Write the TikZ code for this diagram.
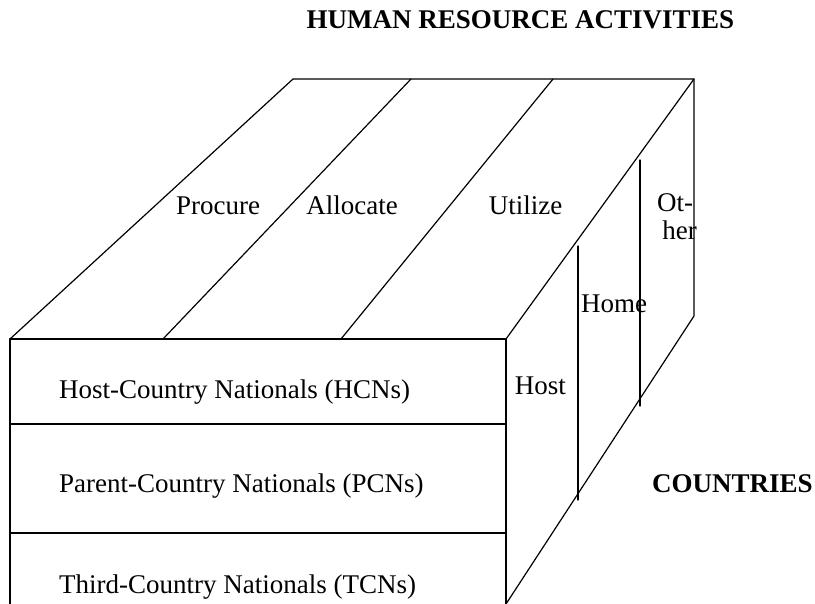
\documentclass[tikz,border=0pt]{standalone}
\usepackage{fontspec}
\setmainfont{Liberation Serif}
\begin{document}
\begin{tikzpicture}[x=1pt,y=-1pt,
  edge/.style={line width=1.2pt,line cap=round,line join=round},
  lbl/.style={inner sep=0pt,font=\fontsize{27}{30}\selectfont},
  ttl/.style={inner sep=0pt,font=\fontsize{27}{30}\selectfont\bfseries}]
\useasboundingbox (0,0) rectangle (815,604);
% corners
\coordinate (FTL) at (10,339);
\coordinate (FTR) at (506,339);
\coordinate (FBL) at (10,604);
\coordinate (FBR) at (506,604);
\coordinate (BTL) at (293,79);
\coordinate (BTR) at (694,79);
\coordinate (BMR) at (694,316);
\coordinate (D1a) at (10,424);
\coordinate (D1b) at (506,424);
\coordinate (D2a) at (10,533);
\coordinate (D2b) at (506,533);
\coordinate (T1a) at (163,339);
\coordinate (T1b) at (411,79);
\coordinate (T2a) at (341,339);
\coordinate (T2b) at (553,79);
\coordinate (V1a) at (578,246);
\coordinate (V1b) at (578,500);
\coordinate (V2a) at (640,160);
\coordinate (V2b) at (640,406);
% front face
\draw[edge] (FBL) -- (FTL) -- (FTR) -- (FBR);
\draw[edge] (D1a) -- (D1b);
\draw[edge] (D2a) -- (D2b);
% top face
\draw[edge] (FTL) -- (BTL) -- (BTR) -- (FTR);
\draw[edge] (T1a) -- (T1b);
\draw[edge] (T2a) -- (T2b);
% right face
\draw[edge] (BTR) -- (BMR) -- (FBR);
\draw[edge] (V1a) -- (V1b);
\draw[edge] (V2a) -- (V2b);
% texts
\node[ttl,anchor=base] (title) at (520.5,29) {HUMAN RESOURCE ACTIVITIES};
\node[ttl,anchor=base] (countries) at (732.5,492) {COUNTRIES};
\node[lbl,anchor=base] (procure) at (218,215) {Procure};
\node[lbl,anchor=base] (allocate) at (352,215) {Allocate};
\node[lbl,anchor=base] (utilize) at (525.5,215) {Utilize};
\node[lbl,anchor=base] (ot) at (675,212) {Ot-};
\node[lbl,anchor=base] (her) at (679.5,240) {her};
\node[lbl,anchor=base] (home) at (614,313) {Home};
\node[lbl,anchor=base] (host) at (540.5,395) {Host};
\node[lbl,anchor=base west] (hcn) at (59,399) {Host-Country Nationals (HCNs)};
\node[lbl,anchor=base west] (pcn) at (59,492) {Parent-Country Nationals (PCNs)};
\node[lbl,anchor=base west] (tcn) at (59,593) {Third-Country Nationals (TCNs)};
\end{tikzpicture}
\end{document}
